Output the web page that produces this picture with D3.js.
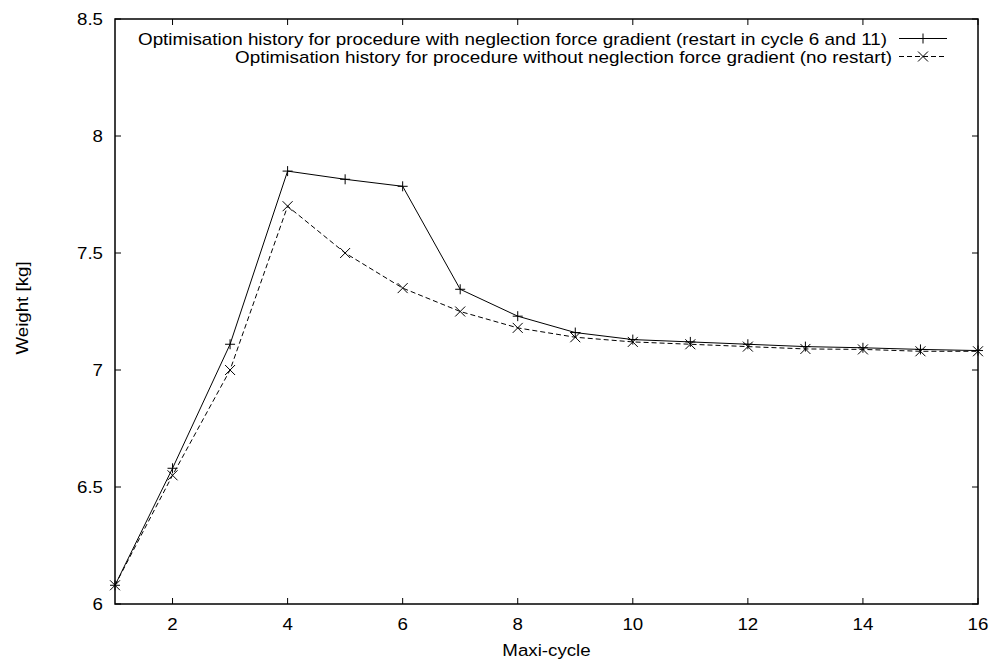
<!DOCTYPE html>
<html><head><meta charset="utf-8">
<script src="https://cdn.jsdelivr.net/npm/d3@7"></script>
<style>body{margin:0;background:#fff;} svg{display:block;font-family:"Liberation Sans",Arial,sans-serif;}</style>
</head><body><svg id="c" width="991" height="661"></svg>
<script>
const cycles = [1,2,3,4,5,6,7,8,9,10,11,12,13,14,15,16];
const withGrad = [6.08,6.58,7.11,7.85,7.815,7.785,7.345,7.23,7.16,7.13,7.12,7.11,7.10,7.095,7.088,7.083];
const withoutGrad = [6.08,6.55,7.0,7.70,7.50,7.35,7.25,7.18,7.14,7.12,7.11,7.10,7.09,7.088,7.08,7.08];
const xTicks = [2,4,6,8,10,12,14,16];
const yTicks = [6,6.5,7,7.5,8,8.5];
const seriesNames = ["Optimisation history for procedure with neglection force gradient (restart in cycle 6 and 11)",
                     "Optimisation history for procedure without neglection force gradient (no restart)"];

const svg = d3.select("#c");
const L=115, R=978, T=19, B=604;
const x = d3.scaleLinear().domain([1,16]).range([L,R]);
const y = d3.scaleLinear().domain([6,8.5]).range([B,T]);
const fs = 17, sx = 1.1;

function txt(parent, tx, ty, s, anchor, rot){
  return parent.append("text")
    .attr("transform", `translate(${tx},${ty})` + (rot?` rotate(${rot})`:"") + ` scale(${sx},1)`)
    .attr("text-anchor", anchor).attr("font-size", fs).attr("fill","#000").text(s);
}

// ticks (inward, mirrored)
const tk = 6;
const g = svg.append("g").attr("stroke","#000").attr("stroke-width",1);
xTicks.forEach(v=>{
  g.append("line").attr("x1",x(v)).attr("x2",x(v)).attr("y1",B).attr("y2",B-tk);
  g.append("line").attr("x1",x(v)).attr("x2",x(v)).attr("y1",T).attr("y2",T+tk);
});
yTicks.forEach(v=>{
  g.append("line").attr("x1",L).attr("x2",L+tk).attr("y1",y(v)).attr("y2",y(v));
  g.append("line").attr("x1",R).attr("x2",R-tk).attr("y1",y(v)).attr("y2",y(v));
});
// tick labels
const tl = svg.append("g");
xTicks.forEach(v=>txt(tl, x(v), 630, v, "middle"));
yTicks.forEach(v=>txt(tl, 103, y(v)+6, v, "end"));

// axis labels
txt(svg, 546.5, 656, "Maxi-cycle", "middle");
svg.append("text").attr("transform","translate(28,308) rotate(-90) scale(1.1,1)")
  .attr("text-anchor","middle").attr("font-size",fs).text("Weight [kg]");

// lines
const line = d3.line().x((d,i)=>x(cycles[i])).y(d=>y(d));
svg.append("path").datum(withGrad).attr("d",line).attr("fill","none").attr("stroke","#000").attr("stroke-width",1);
svg.append("path").datum(withoutGrad).attr("d",line).attr("fill","none").attr("stroke","#000").attr("stroke-width",1).attr("stroke-dasharray","5,3");

const ms = 5;
function plus(gg,cx,cy){gg.append("path").attr("d",`M${cx-ms},${cy}H${cx+ms}M${cx},${cy-ms}V${cy+ms}`).attr("stroke","#000").attr("stroke-width",1).attr("fill","none");}
function cross(gg,cx,cy){gg.append("path").attr("d",`M${cx-ms},${cy-ms}L${cx+ms},${cy+ms}M${cx-ms},${cy+ms}L${cx+ms},${cy-ms}`).attr("stroke","#000").attr("stroke-width",1).attr("fill","none");}
const mg = svg.append("g");
withGrad.forEach((v,i)=>plus(mg,x(cycles[i]),y(v)));
withoutGrad.forEach((v,i)=>cross(mg,x(cycles[i]),y(v)));

// legend
const lg = svg.append("g");
const rows=[38.5,56.5];
const starts=[138,235], ends=[887,892];
seriesNames.forEach((n,i)=>{
  lg.append("text").attr("x",starts[i]).attr("y",rows[i]+6).attr("text-anchor","start").attr("font-size",fs)
    .attr("textLength",ends[i]-starts[i]).attr("lengthAdjust","spacingAndGlyphs").text(n);
  const ln = lg.append("line").attr("x1",899).attr("x2",947).attr("y1",rows[i]).attr("y2",rows[i]).attr("stroke","#000").attr("stroke-width",1);
  if(i===1) ln.attr("stroke-dasharray","5,3");
  if(i===0) plus(lg,923,rows[i]); else cross(lg,923,rows[i]);
});

// frame
svg.append("rect").attr("x",L).attr("y",T).attr("width",R-L).attr("height",B-T).attr("fill","none").attr("stroke","#000").attr("stroke-width",1.5);
</script></body></html>
